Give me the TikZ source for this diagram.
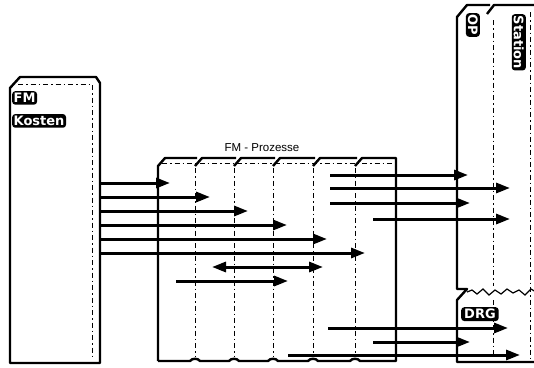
\documentclass[tikz,border=0pt]{standalone}
\usepackage{fontspec}
\setmainfont{Liberation Sans}
\newfontfamily\etikettfont{DejaVu Sans}
\usetikzlibrary{positioning,arrows.meta}

\begin{document}
\begin{tikzpicture}[x=1pt, y=-1pt, font=\fontsize{11.5}{13}\selectfont,
    >={Triangle[length=14pt, width=10pt]},
    flaeche/.style={inner sep=0pt, outer sep=0pt},
    rand/.style={line width=2.4pt, line join=round},
    innen/.style={line width=0.9pt, dash pattern=on 5pt off 3pt on 1.5pt off 3pt},
    etikett/.style={fill=black, text=white, rounded corners=3pt, inner xsep=1.5pt, inner ysep=2pt,
                    font=\etikettfont\bfseries\fontsize{13}{14}\selectfont},
    pfeil/.style={->, line width=3pt}]
  \useasboundingbox (0,0) rectangle (534,367);
  % Bloecke
  \node[flaeche, minimum width=90, minimum height=286] (kosten) at (55,220) {};
  \node[flaeche, minimum width=238, minimum height=203] (prozesse) at (277,259.5) {};
  \node[flaeche, minimum width=88, minimum height=357] (station) at (501,183.5) {};

  % FM Kosten
  \draw[rand] (kosten.south west) -- ([yshift=-11pt]kosten.north west) -- ([xshift=10pt]kosten.north west)
      -- ([xshift=-4pt]kosten.north east) -- ([yshift=-6pt]kosten.north east) -- (kosten.south east) -- cycle;
  \draw[innen] ([xshift=8pt, yshift=-7pt]kosten.north west) -- ([xshift=-8pt, yshift=-7pt]kosten.north east)
      -- ([xshift=-8pt, yshift=4pt]kosten.south east);
  \node[etikett, anchor=north west] (fm) at ([xshift=2pt, yshift=-14pt]kosten.north west) {FM};
  \node[etikett, below=9pt of fm.south west, anchor=north west] (kostentext) {Kosten};

  % FM Prozesse
  \draw[rand] (prozesse.south west) -- (158,166) -- (165,158) -- (197,158)
      (195,166) -- (202,158) -- (236,158)
      (234,166) -- (241,158) -- (275,158)
      (273,166) -- (280,158) -- (315,158)
      (313,166) -- (320,158) -- (357,158)
      (355,166) -- (362,158) -- (396,158) -- (prozesse.south east)
      -- (360,361) .. controls (358,358) and (352,358) .. (350,361)
      -- (318,361) .. controls (316,358) and (310,358) .. (308,361)
      -- (278,361) .. controls (276,358) and (270,358) .. (268,361)
      -- (239,361) .. controls (237,358) and (231,358) .. (229,361)
      -- (200,361) .. controls (198,358) and (192,358) .. (190,361) -- (prozesse.south west);
  \draw[innen] (162,163) -- (394,163)
      (195,168) -- (195,356) (234,168) -- (234,356) (273,168) -- (273,356)
      (313,168) -- (313,356) (355,168) -- (355,356);
  \node[above=3pt of prozesse, xshift=-15pt] (titel) {FM - Prozesse};

  % OP Station / DRG
  \draw[rand] (station.south east) -- (station.south west) -- (457,300) -- (467,289) -- (457,289)
      -- (457,17) -- (467,5) -- (490,5) (487,14) -- (494,5) -- (station.north east);
  \draw[line width=1.2pt] (467,292) -- (472,290) -- (477,294) -- (483,289) -- (489,295) -- (495,290)
      -- (501,294) -- (507,289) -- (513,293) -- (519,290) -- (525,295) -- (531,289) -- (536,292);
  \draw[innen] (493,20) -- (493,286) (493,300) -- (493,358) (530,12) -- (530,358);
  \node[etikett, rotate=-90, anchor=north west] (op) at (480,13) {OP};
  \node[etikett, rotate=-90, anchor=north west] (stationtext) at (526,14) {Station};
  \node[etikett, anchor=north west, inner xsep=3pt] (drg) at (461,307) {DRG};

  % Pfeile
  \draw[pfeil] (kosten.east |- 0,183) -- ++(70,0);
  \draw[pfeil] (kosten.east |- 0,197) -- ++(110,0);
  \draw[pfeil] (kosten.east |- 0,211) -- ++(148,0);
  \draw[pfeil] (kosten.east |- 0,225) -- ++(187,0);
  \draw[pfeil] (kosten.east |- 0,239) -- ++(227,0);
  \draw[pfeil] (kosten.east |- 0,253) -- ++(265,0);
  \draw[pfeil, <->] (212,267) -- ++(111,0);
  \draw[pfeil] (176,281) -- ++(112,0);
  \draw[pfeil] (330,175) -- ++(138,0);
  \draw[pfeil] (330,188) -- ++(180,0);
  \draw[pfeil] (330,203) -- ++(140,0);
  \draw[pfeil] (373,219) -- ++(137,0);
  \draw[pfeil] (328,328) -- ++(180,0);
  \draw[pfeil] (373,342) -- ++(97,0);
  \draw[pfeil] (288,355) -- ++(232,0);
\end{tikzpicture}
\end{document}
